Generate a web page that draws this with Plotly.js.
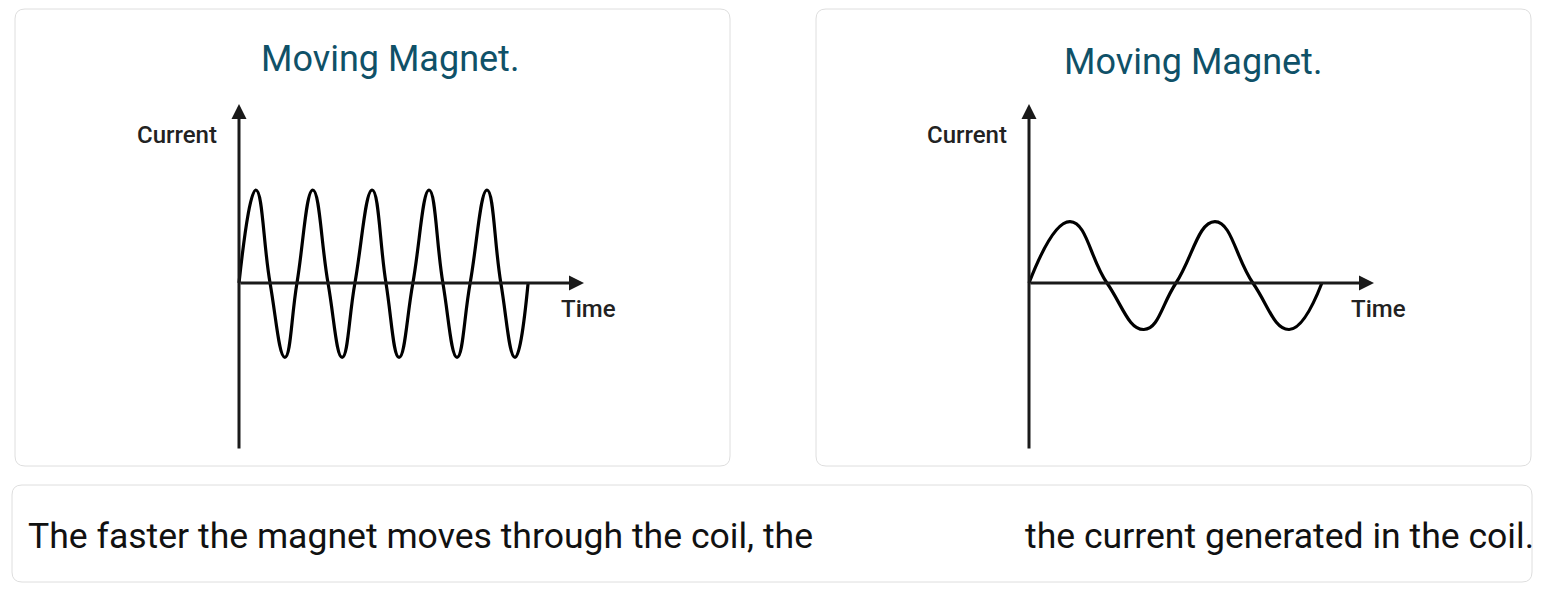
<!DOCTYPE html>
<html>
<head>
<meta charset="utf-8">
<script src="https://cdn.plot.ly/plotly-3.0.1.min.js"></script>
<style>
html,body{margin:0;padding:0;background:#fff;}
#chart{width:1550px;height:595px;}
</style>
</head>
<body>
<div id="chart"></div>
<script>
// ---- data ----
const panelTitles = ["Moving Magnet.", "Moving Magnet."];
const yLabel = "Current";
const xLabel = "Time";
// fast-moving magnet: key points (start, peaks, zero crossings, troughs)
const leftTime    = [0, 0.49, 0.90, 1.33, 1.68, 2.14, 2.58, 2.99, 3.36, 3.86, 4.26, 4.64, 5.04, 5.51, 5.91, 6.32, 6.70, 7.19, 7.59, 8.00, 8.38];
const leftCurrent = [0, 1.00, 0, -0.80, 0, 1.00, 0, -0.80, 0, 1.00, 0, -0.80, 0, 1.00, 0, -0.80, 0, 1.00, 0, -0.80, 0];
// slow-moving magnet
const rightTime    = [0, 1.19, 2.26, 3.33, 4.26, 5.39, 6.49, 7.54, 8.49];
const rightCurrent = [0, 0.66, 0, -0.50, 0, 0.66, 0, -0.50, 0];
const sentenceStart = "The faster the magnet moves through the coil, the";
const sentenceEnd = "the current generated in the coil.";

// ---- layout helpers ----
const W = 1550, H = 595;
const px = x => x / W;
const py = y => 1 - y / H;
function roundRect(x0, y0, x1, y1, r) {
  const X = px, Y = py;
  return `M${X(x0 + r)},${Y(y0)} L${X(x1 - r)},${Y(y0)} Q${X(x1)},${Y(y0)} ${X(x1)},${Y(y0 + r)} ` +
         `L${X(x1)},${Y(y1 - r)} Q${X(x1)},${Y(y1)} ${X(x1 - r)},${Y(y1)} ` +
         `L${X(x0 + r)},${Y(y1)} Q${X(x0)},${Y(y1)} ${X(x0)},${Y(y1 - r)} ` +
         `L${X(x0)},${Y(y0 + r)} Q${X(x0)},${Y(y0)} ${X(x0 + r)},${Y(y0)} Z`;
}
const FONT = "Roboto, 'Noto Sans', sans-serif";
const xRange = [-0.5507, 11.0435];
const yRange = [-1.9032, 2.0215];
const axTop = 1.925, axBottom = -1.796, axRight = 10.0;

const traces = [
  {x: leftTime, y: leftCurrent, xaxis: 'x', yaxis: 'y', mode: 'lines',
   line: {color: '#000', width: 3.2, shape: 'spline', smoothing: 1.3}, hoverinfo: 'skip'},
  {x: rightTime, y: rightCurrent, xaxis: 'x2', yaxis: 'y2', mode: 'lines',
   line: {color: '#000', width: 3.2, shape: 'spline', smoothing: 1.3}, hoverinfo: 'skip'}
];

const shapes = [
  {type: 'path', xref: 'paper', yref: 'paper', path: roundRect(15, 9, 730, 466, 10), line: {color: '#dedede', width: 1}, fillcolor: 'rgba(0,0,0,0)'},
  {type: 'path', xref: 'paper', yref: 'paper', path: roundRect(816, 9, 1531, 466, 10), line: {color: '#dedede', width: 1}, fillcolor: 'rgba(0,0,0,0)'},
  {type: 'path', xref: 'paper', yref: 'paper', path: roundRect(12, 485, 1532, 582, 10), line: {color: '#dedede', width: 1}, fillcolor: 'rgba(0,0,0,0)'}
];

const annotations = [];
function axisArrows(xa, ya, labelRightPx) {
  annotations.push({xref: xa, yref: ya, axref: xa, ayref: ya, x: 0, y: axTop, ax: 0, ay: axBottom,
    text: '', showarrow: true, arrowhead: 2, arrowsize: 1, arrowwidth: 3, arrowcolor: '#1a1a1a'});
  annotations.push({xref: xa, yref: ya, axref: xa, ayref: ya, x: axRight, y: 0, ax: 0, ay: 0,
    text: '', showarrow: true, arrowhead: 2, arrowsize: 1, arrowwidth: 3, arrowcolor: '#1a1a1a'});
  annotations.push({xref: 'paper', yref: 'paper', x: px(labelRightPx), y: py(135), xanchor: 'right', yanchor: 'middle',
    text: yLabel, showarrow: false, font: {family: FONT, size: 24, weight: 500, color: '#222'}});
  annotations.push({xref: xa, yref: ya, x: 9.28, y: -0.28, xanchor: 'left', yanchor: 'middle',
    text: xLabel, showarrow: false, font: {family: FONT, size: 24, weight: 500, color: '#222'}});
}
axisArrows('x', 'y', 219);
axisArrows('x2', 'y2', 1009);
annotations.push({xref: 'paper', yref: 'paper', x: px(390), y: py(59), xanchor: 'center', yanchor: 'middle',
  text: panelTitles[0], showarrow: false, font: {family: FONT, size: 36, color: '#0f5168'}});
annotations.push({xref: 'paper', yref: 'paper', x: px(1193), y: py(62), xanchor: 'center', yanchor: 'middle',
  text: panelTitles[1], showarrow: false, font: {family: FONT, size: 36, color: '#0f5168'}});
annotations.push({xref: 'paper', yref: 'paper', x: px(26), y: py(536), xanchor: 'left', yanchor: 'middle',
  text: sentenceStart, showarrow: false, font: {family: FONT, size: 35.6, color: '#111'}});
annotations.push({xref: 'paper', yref: 'paper', x: px(1536), y: py(536), xanchor: 'right', yanchor: 'middle',
  text: sentenceEnd, showarrow: false, font: {family: FONT, size: 35.6, color: '#111'}});

const layout = {
  width: W, height: H,
  margin: {l: 0, r: 0, t: 0, b: 0},
  paper_bgcolor: '#fff', plot_bgcolor: 'rgba(0,0,0,0)',
  showlegend: false,
  xaxis:  {domain: [px(220), px(620)], range: xRange, visible: false, fixedrange: true},
  yaxis:  {domain: [py(460), py(95)], range: yRange, visible: false, fixedrange: true},
  xaxis2: {domain: [px(1010), px(1410)], range: xRange, visible: false, fixedrange: true, anchor: 'y2'},
  yaxis2: {domain: [py(460), py(95)], range: yRange, visible: false, fixedrange: true, anchor: 'x2'},
  shapes: shapes,
  annotations: annotations
};
Plotly.newPlot('chart', traces, layout, {displayModeBar: false, staticPlot: true});
</script>
</body>
</html>
